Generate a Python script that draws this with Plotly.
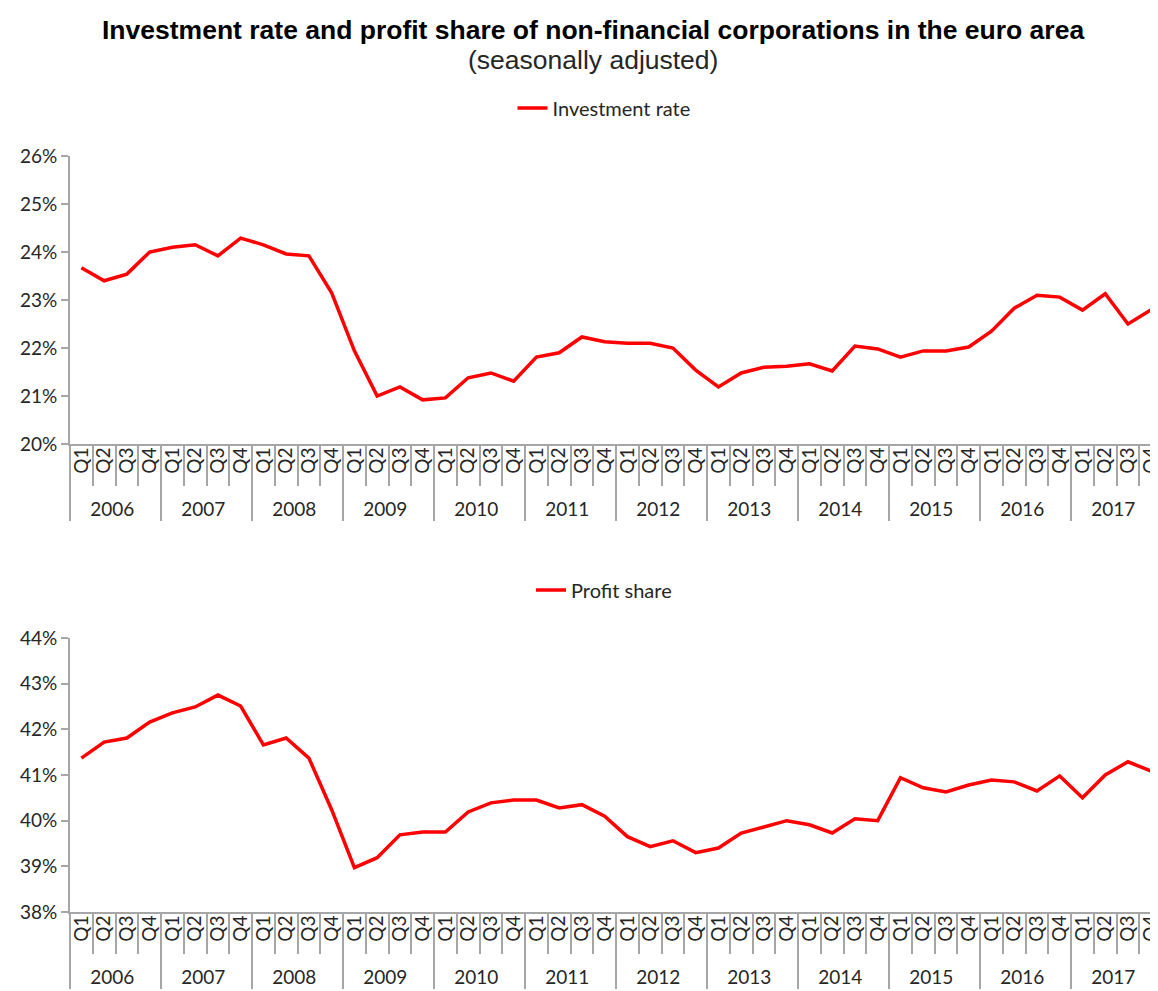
import plotly.graph_objects as go

years = ["2006", "2007", "2008", "2009", "2010", "2011", "2012", "2013", "2014", "2015", "2016", "2017"]
quarters = ["Q1", "Q2", "Q3", "Q4"]

investment_rate = [
    23.67, 23.40, 23.54, 24.00,
    24.10, 24.15, 23.92, 24.29,
    24.15, 23.96, 23.92, 23.15,
    21.94, 21.00, 21.19, 20.92,
    20.96, 21.38, 21.48, 21.31,
    21.81, 21.90, 22.23, 22.13,
    22.10, 22.10, 22.00, 21.54,
    21.19, 21.48, 21.60, 21.62,
    21.67, 21.52, 22.04, 21.98,
    21.81, 21.94, 21.94, 22.02,
    22.35, 22.83, 23.10, 23.06,
    22.79, 23.13, 22.50, 22.79,
]

profit_share = [
    41.37, 41.72, 41.81, 42.16,
    42.36, 42.49, 42.75, 42.51,
    41.66, 41.81, 41.37, 40.24,
    38.97, 39.19, 39.69, 39.75,
    39.75, 40.19, 40.39, 40.45,
    40.45, 40.28, 40.35, 40.10,
    39.65, 39.43, 39.56, 39.30,
    39.40, 39.73, 39.86, 40.00,
    39.91, 39.73, 40.04, 40.00,
    40.94, 40.72, 40.63, 40.78,
    40.89, 40.85, 40.65, 40.98,
    40.50, 41.00, 41.29, 41.09,
]

title_text = "Investment rate and profit share of non-financial corporations in the euro area"
subtitle_text = "(seasonally adjusted)"

x_outer = [y for y in years for _ in quarters]
x_inner = [q for _ in years for q in quarters]
x_multi = [x_outer, x_inner]

# page body adds an 8px offset, so the figure is laid out in window coords minus 8
OFF = 8
W, H = 1158 - OFF, 991 - OFF
L = 70 - OFF
PW = W - L
RED = "#FF0000"
GRAY = "#A6A6A6"
TXT = "#262626"
FONT = "Lato"

fig = go.Figure()
fig.add_trace(go.Scatter(x=x_multi, y=investment_rate, mode="lines", name="Investment rate",
                         line=dict(color=RED, width=3.5), xaxis="x", yaxis="y", legend="legend"))
fig.add_trace(go.Scatter(x=x_multi, y=profit_share, mode="lines", name="Profit share",
                         line=dict(color=RED, width=3.5), xaxis="x2", yaxis="y2", legend="legend2"))

def xaxis_style(anchor):
    return dict(
        type="multicategory", anchor=anchor, domain=[0, 1],
        range=[-0.5, 47.32],
        tickmode="linear", tick0=0, dtick=1,
        showline=True, linecolor=GRAY, linewidth=2,
        ticks="outside", ticklen=40, tickwidth=1.5, tickcolor=GRAY,
        ticklabelstandoff=-6,
        tickangle=-90, tickfont=dict(family=FONT, size=19, color=TXT),
        showdividers=True, dividercolor=GRAY, dividerwidth=2,
        showgrid=False, zeroline=False, fixedrange=True,
    )

def yaxis_style(anchor, lo, hi, domain):
    return dict(
        anchor=anchor, domain=domain, range=[lo, hi], dtick=1, tick0=lo,
        ticksuffix="%", showline=True, linecolor=GRAY, linewidth=2,
        ticks="outside", ticklen=7, tickwidth=1.5, tickcolor=GRAY,
        tickfont=dict(family=FONT, size=19, color=TXT),
        showgrid=False, zeroline=False, fixedrange=True,
    )

def py(wy):
    return 1 - (wy - OFF) / H

def px(wx):
    return (wx - OFF - L) / PW

fig.update_layout(
    width=W, height=H,
    margin=dict(l=L, r=0, t=0, b=0),
    paper_bgcolor="white", plot_bgcolor="white",
    template="none",
    xaxis=xaxis_style("y"),
    yaxis=yaxis_style("x", 20, 26, [py(444), py(156)]),
    xaxis2=xaxis_style("y2"),
    yaxis2=yaxis_style("x2", 38, 44, [py(912), py(638)]),
    legend=dict(x=px(604), y=py(108), xanchor="center", yanchor="middle",
                orientation="h", font=dict(family=FONT, size=20, color=TXT),
                bgcolor="rgba(0,0,0,0)"),
    legend2=dict(x=px(604), y=py(590), xanchor="center", yanchor="middle",
                 orientation="h", font=dict(family=FONT, size=20, color=TXT),
                 bgcolor="rgba(0,0,0,0)"),
    annotations=[
        dict(text="<b>" + title_text + "</b>", xref="paper", yref="paper",
             x=px(593), y=py(30), xanchor="center", yanchor="middle", showarrow=False,
             font=dict(family="Liberation Sans", size=26.5, color="black")),
        dict(text=subtitle_text, xref="paper", yref="paper",
             x=px(593), y=py(60), xanchor="center", yanchor="middle", showarrow=False,
             font=dict(family="Liberation Sans", size=26.5, color=TXT)),
    ],
    showlegend=True,
)

fig.write_html("out.html")
